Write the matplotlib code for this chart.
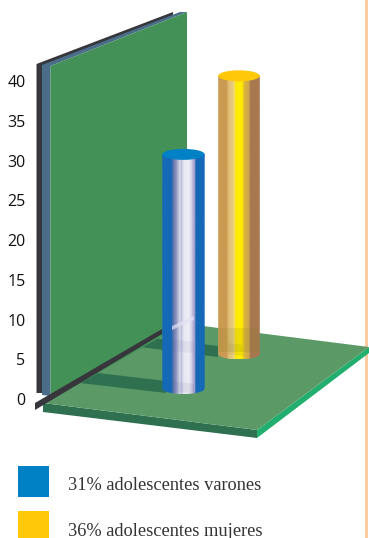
#!/usr/bin/env python3
"""Teen percentages drawn as two glassy cylinders standing in a green 3D corner."""

import matplotlib
matplotlib.use("Agg")
import matplotlib.pyplot as plt
import numpy as np
from matplotlib.colors import LinearSegmentedColormap
from matplotlib.patches import Ellipse, Polygon, Rectangle
from matplotlib.path import Path
from matplotlib.transforms import Affine2D

WIDTH, HEIGHT = 369, 538
DPI = 100

Y_TICKS = [0, 5, 10, 15, 20, 25, 30, 35, 40]
LABELS = ["31% adolescentes varones", "36% adolescentes mujeres"]
VALUES = [31, 36]

# Axis scale: value 0 sits at pixel row 399, one unit is 7.95 px
Y0_PX = 399.2
PX_PER_UNIT = 7.95

# Cylinder placement (depth shrinks each column a little against the axis scale)
CENTER_X = [183.5, 239.0]
BASE_PX = [388.5, 354.0]
DEPTH_SCALE = [0.950, 0.972]
RADIUS = [21.2, 20.8]
CAP_PX = 5.5

CAP_COLORS = ["#0081C6", "#FFC90A"]
SWATCH_COLORS = ["#0081C6", "#FFC90A"]
# Horizontal shading across each column: (position 0-1, colour)
BODY_STOPS = [
    [(0.00, "#1569B7"), (0.23, "#1569B7"), (0.24, "#4C6AA8"), (0.33, "#8E94BE"),
     (0.42, "#DCDCEC"), (0.45, "#B9BAD6"), (0.50, "#E6E6F2"), (0.62, "#EEEEF6"),
     (0.68, "#D6D6EA"), (0.74, "#A9A6D0"), (0.77, "#9C98C8"), (0.78, "#1569B7"),
     (1.00, "#1569B7")],
    [(0.00, "#CB9A52"), (0.22, "#CB9A52"), (0.23, "#DDBB70"), (0.35, "#E6CB80"),
     (0.40, "#F3E070"), (0.41, "#FFE600"), (0.52, "#FFF000"), (0.60, "#FFE000"),
     (0.61, "#DDB83A"), (0.74, "#CDA548"), (0.75, "#C9A468"), (0.76, "#A87850"),
     (1.00, "#A87850")],
]

WALL = "#449158"
WALL_SIDE = "#4A6E8A"
FRAME = "#36363C"
FLOOR = "#5B9A66"
FLOOR_FRONT = "#2F7050"
FLOOR_SIDE = "#22AE6E"
SHADOW = "#2F7050"
RULE = "#FFC9A2"

fig = plt.figure(figsize=(WIDTH / DPI, HEIGHT / DPI), dpi=DPI, facecolor="white")
ax = fig.add_axes([29 / WIDTH, 0, (WIDTH - 29) / WIDTH, 1])
ax.patch.set_visible(False)
for spine in ax.spines.values():
    spine.set_visible(False)

# Scene furniture is laid out in pixel rows from the top of the figure
scene = Affine2D().scale(1, -1).translate(0, HEIGHT)


def flat(points, color, zorder):
    ax.add_patch(Polygon(points, closed=True, facecolor=color, edgecolor="none",
                         transform=scene, clip_on=False, zorder=zorder))


def to_value(py):
    return (Y0_PX - py) / PX_PER_UNIT


# Peach rule down the right edge
ax.add_patch(Rectangle((364.8, 0), 3.0, HEIGHT, facecolor=RULE, edgecolor="none",
                       transform=scene, clip_on=False, zorder=0))

# Floor slab
flat([(43, 403), (43, 412), (257, 438), (257, 430)], FLOOR_FRONT, 1)
flat([(257, 430), (257, 438), (369, 353), (369, 347)], FLOOR_SIDE, 1)
flat([(43, 403), (257, 430), (369, 347), (203, 326), (162, 331)], FLOOR, 1)

# Shadows lying on the floor
flat([(80, 383), (98, 373), (166, 381), (166, 393)], SHADOW, 2)
flat([(140, 347), (153, 338), (218, 346), (218, 357)], SHADOW, 2)

# Back wall with its blue edge and dark frame
flat([(36.5, 64), (173, 12), (173, 16), (42, 66), (42, 393), (36.5, 393)], FRAME, 3)
flat([(42, 65), (180, 12), (187, 12), (50.5, 66), (50.5, 396), (42, 395)], WALL_SIDE, 3)
flat([(50.5, 66), (187, 12), (187, 322), (50.5, 400)], WALL, 4)
flat([(35, 403), (162, 329), (162, 334), (35, 410)], FRAME, 5)

# Columns: shaded body, closed with a flat cap
for i, value in enumerate(VALUES):
    cx, r = CENTER_X[i], RADIUS[i]
    base = to_value(BASE_PX[i])
    top = base + value * DEPTH_SCALE[i]
    cap = CAP_PX / PX_PER_UNIT

    stops = BODY_STOPS[i]
    cmap = LinearSegmentedColormap.from_list(f"body{i}", stops, N=512)
    shade = np.linspace(0, 1, 512).reshape(1, -1)
    img = ax.imshow(shade, cmap=cmap, aspect="auto", interpolation="bilinear",
                    extent=(cx - r, cx + r, base - cap, top), zorder=6)

    t = np.linspace(np.pi, 2 * np.pi, 60)
    outline = np.vstack([
        [cx - r, top],
        np.column_stack([cx + r * np.cos(t), base + cap * np.sin(t)]),
        [cx + r, top],
        [cx - r, top],
    ])
    img.set_clip_path(Path(outline), transform=ax.transData)

    if i == 0:
        # Frame line and floor edges seen through the glass
        glass = [([(172, 326), (194, 316), (194, 320), (172, 330)], "#E4E0F6", 0.7),
                 ([(172, 339), (194, 342), (194, 353), (172, 351)], "#5A5A90", 0.08),
                 ([(172, 381), (194, 384), (194, 393), (172, 392)], "#5A5A90", 0.10)]
    else:
        glass = [([(219, 328), (259, 328), (259, 352), (219, 352)], "#7A7A20", 0.14),
                 ([(228, 343), (243, 345), (243, 356), (228, 354)], "#6A6A20", 0.10)]
    for points, color, alpha in glass:
        ax.add_patch(Polygon(points, closed=True, facecolor=color, edgecolor="none",
                             alpha=alpha, transform=scene, clip_on=False, zorder=7))

    ax.add_patch(Ellipse((cx, top), 2 * r, 2 * cap, facecolor=CAP_COLORS[i],
                         edgecolor="none", zorder=8))

ax.set_xlim(29, WIDTH)
ax.set_ylim(to_value(HEIGHT), to_value(0))
ax.set_xticks([])
ax.set_yticks(Y_TICKS)
ax.set_yticklabels([str(v) for v in Y_TICKS], family="Open Sans", fontsize=11.5,
                   color="#111111")
ax.tick_params(axis="y", length=0, pad=2.5)

# Legend
for i, (label, color) in enumerate(zip(LABELS, SWATCH_COLORS)):
    row = 466 + i * 45
    ax.add_patch(Rectangle((18, row), 31, 31, facecolor=color, edgecolor="none",
                           transform=scene, clip_on=False, zorder=9))
    ax.text(68, row + 24.5, label, family="Liberation Serif", fontsize=13.2,
            color="#333333", ha="left", va="baseline", transform=scene, clip_on=False)

fig.savefig("out.png", dpi=DPI, facecolor="white")
